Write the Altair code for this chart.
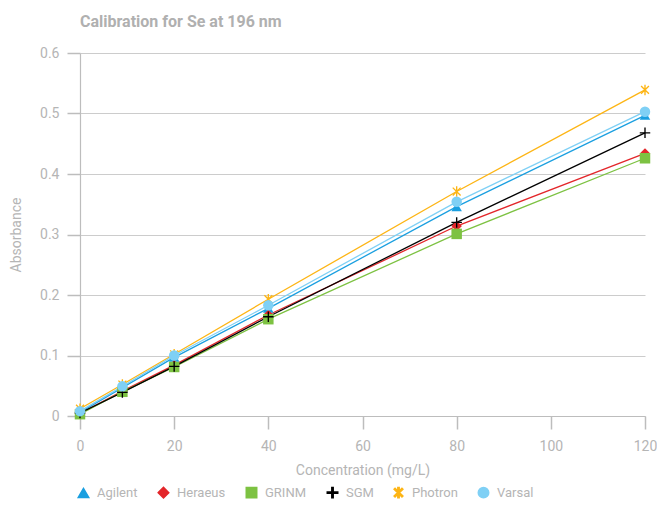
import altair as alt
import pandas as pd

conc = [0, 9, 20, 40, 80, 120]
series = ["Agilent", "Heraeus", "GRINM", "SGM", "Photron", "Varsal"]
agilent = [0.006, 0.047, 0.097, 0.178, 0.346, 0.497]
heraeus = [0.004, 0.041, 0.084, 0.167, 0.314, 0.434]
grinm = [0.003, 0.040, 0.081, 0.160, 0.301, 0.426]
sgm = [0.005, 0.039, 0.082, 0.164, 0.320, 0.468]
photron = [0.012, 0.052, 0.102, 0.193, 0.371, 0.539]
varsal = [0.008, 0.049, 0.100, 0.183, 0.354, 0.503]
colors = ["#1a9fe0", "#e3262a", "#7dc242", "#000000", "#fdb515", "#7fd0f5"]

# thin filled polygons so that the plus and asterisk render with fill
PLUS = ("M-1,-0.13L-0.13,-0.13L-0.13,-1L0.13,-1L0.13,-0.13L1,-0.13L1,0.13"
        "L0.13,0.13L0.13,1L-0.13,1L-0.13,0.13L-1,0.13Z")
ASTER = ("M-0.13,-1L0.13,-1L0.13,1L-0.13,1Z"
         "M-0.66,-0.84L0.84,0.66L0.66,0.84L-0.84,-0.66Z"
         "M-0.84,0.66L0.66,-0.84L0.84,-0.66L-0.66,0.84Z")
shapes = ["triangle-up", "diamond", "square", PLUS, ASTER, "circle"]

rows = []
for name, vals in zip(series, [agilent, heraeus, grinm, sgm, photron, varsal]):
    for c, v in zip(conc, vals):
        rows.append({"series": name, "conc": c, "abs": v, "order": series.index(name)})
df = pd.DataFrame(rows)

xenc = alt.X("conc:Q", title="Concentration (mg/L)",
             scale=alt.Scale(domain=[0, 120], nice=False),
             axis=alt.Axis(values=[0, 20, 40, 60, 80, 100, 120], grid=False,
                           labelFlush=False, tickSize=13, labelPadding=10, titlePadding=10))
yenc = alt.Y("abs:Q", title="Absorbance",
             scale=alt.Scale(domain=[0, 0.6], nice=False),
             axis=alt.Axis(values=[0, 0.1, 0.2, 0.3, 0.4, 0.5, 0.6], format="~g", grid=True,
                           labelFlush=False, tickSize=13, labelPadding=8, titlePadding=16))

cscale = alt.Scale(domain=series, range=colors)
legend = alt.Legend(title=None, orient="none", legendX=-3, legendY=433, direction="horizontal",
                    labelColor="#b5b5b5", labelFont="Roboto", labelFontSize=13,
                    symbolSize=110, columnPadding=17, labelOffset=7, padding=0)

lines = alt.Chart(df).mark_line(strokeWidth=1.3).encode(
    x=xenc, y=yenc,
    color=alt.Color("series:N", scale=cscale, legend=legend),
)

points = alt.Chart(df).mark_point(filled=True, size=110, opacity=1).encode(
    x=xenc, y=yenc,
    color=alt.Color("series:N", scale=cscale, legend=legend),
    shape=alt.Shape("series:N", scale=alt.Scale(domain=series, range=shapes), legend=legend),
    order=alt.Order("order:Q"),
)

chart = alt.layer(lines, points).properties(
    width=565, height=363,
    title=alt.Title("Calibration for Se at 196 nm", anchor="start", frame="group",
                    fontSize=16, fontWeight="bold", color="#b0b0b0", font="Roboto", offset=16),
    autosize=alt.AutoSizeParams(type="none"),
    padding={"left": 72, "top": 45, "right": 12, "bottom": 84},
).configure_view(stroke=None).configure_axis(
    domainColor="#bdbdbd", tickColor="#bdbdbd", gridColor="#cccccc",
    labelColor="#b5b5b5", titleColor="#b5b5b5", labelFont="Roboto", titleFont="Roboto",
    labelFontSize=14, titleFontSize=14, titleFontWeight="normal",
    domainWidth=1.2, tickWidth=1.5,
)

chart.save("out.html", embed_options={"renderer": "svg", "actions": False})
